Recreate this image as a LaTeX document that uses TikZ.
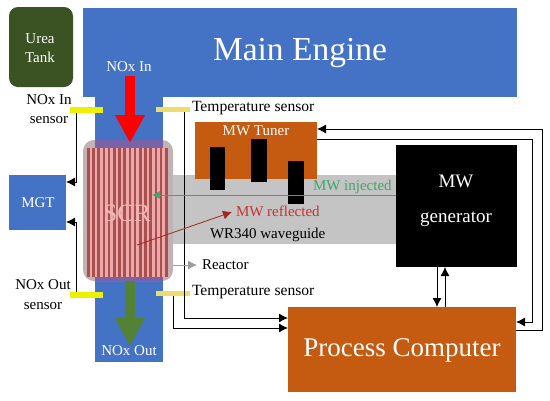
\documentclass[tikz,border=0pt]{standalone}
\usepackage{fontspec}
\setmainfont{Liberation Serif}
\usetikzlibrary{arrows.meta}
\definecolor{engblue}{HTML}{4472C4}
\definecolor{tankgreen}{HTML}{3B5323}
\definecolor{tunerorange}{HTML}{C55A11}
\definecolor{arrowgreen}{HTML}{548235}
\definecolor{wgray}{HTML}{C4C4C4}
\definecolor{scrgray}{HTML}{BFB3B3}
\definecolor{tempyellow}{HTML}{EFDD6A}
\definecolor{sensoryellow}{HTML}{EDF000}
\definecolor{stripered}{HTML}{A84F4F}
\definecolor{stripepink}{HTML}{EDA9A9}
\definecolor{scrtext}{HTML}{F0B8B8}
\definecolor{bandpurple}{HTML}{7A62A8}
\definecolor{mwgreen}{HTML}{3FA56A}
\definecolor{mwred}{HTML}{C8322D}
\tikzset{
 blk/.style={inner sep=0pt,outer sep=0pt,anchor=north west,draw=none},
 conn/.style={draw=black,line width=0.9pt,-{Latex[length=9pt,width=9pt]}},
 sens/.style={blk,fill=sensoryellow,minimum width=33pt,minimum height=6pt},
 temps/.style={blk,fill=tempyellow,minimum width=34pt,minimum height=5pt},
 lbl/.style={inner sep=0pt,outer sep=0pt,font=\fontsize{15}{17}\selectfont},
 fat/.style={line width=9.5pt,-{Triangle[length=28pt,width=28pt]}},
}
\begin{document}
\begin{tikzpicture}[x=1pt,y=-1pt]
\useasboundingbox (0,0) rectangle (550,400);
% Ducts
\node[blk,fill=engblue,minimum width=434pt,minimum height=89pt] (engine) at (83,8) {};
\node[blk,fill=engblue,minimum width=68pt,minimum height=265pt] (duct) at (95,97) {};
\node[blk,fill=tankgreen,rounded corners=9pt,minimum width=64pt,minimum height=80pt] (tank) at (9,7) {};
\node[blk,fill=engblue,minimum width=57pt,minimum height=55pt] (mgt) at (9,175) {};
% Waveguide
\node[blk,fill=wgray,minimum width=225pt,minimum height=69pt] (wave) at (171,175) {};
% Reactor
\node[blk,fill=scrgray,rounded corners=11pt,minimum width=90pt,minimum height=141pt] (scr) at (83,140) {};
\fill[bandpurple] (95,140) rectangle (163,148);
\fill[bandpurple] (95,277) rectangle (163,281);
\fill[stripepink] (87,148) rectangle (168,277);
\foreach \i in {0,...,15}{\fill[stripered] ({87+\i*5.2},148) rectangle ({87+\i*5.2+2.6},277);}
\node[lbl,text=scrtext,font=\fontsize{25}{27}\selectfont] (scrlabel) at (127,213) {SCR};
% Tuner and stubs
\node[blk,fill=tunerorange,minimum width=122pt,minimum height=57pt] (tuner) at (195,122) {};
\node[blk,fill=black,minimum width=15pt,minimum height=43pt] (stuba) at (210,147) {};
\node[blk,fill=black,minimum width=16pt,minimum height=43pt] (stubb) at (251,139) {};
\node[blk,fill=black,minimum width=16pt,minimum height=43pt] (stubc) at (288,161) {};
% Generator and computer
\node[blk,fill=black,minimum width=121pt,minimum height=122pt] (gen) at (396,145) {};
\node[blk,fill=tunerorange,minimum width=228pt,minimum height=85pt] (pc) at (288,307) {};
% Sensors
\node[sens] (noxin) at (70,107) {};
\node[sens] (noxout) at (70,292) {};
\node[temps] (tempin) at (156,107) {};
\node[temps] (tempout) at (156,291) {};
% Fat arrows
\coordinate (inA) at (130,76);
\coordinate (inB) at (130,143);
\coordinate (outA) at (130,281);
\coordinate (outB) at (130,346);
\draw[fat,draw=red,fill=red] (inA) -- (inB);
\draw[fat,draw=arrowgreen,fill=arrowgreen] (outA) -- (outB);
% Connectors
\coordinate (a1) at (76,113);\coordinate (a2) at (76,182);\coordinate (a3) at (66,182);
\draw[conn] (a1) -- (a2) -- (a3);
\coordinate (b1) at (76,292);\coordinate (b2) at (76,222);\coordinate (b3) at (66,222);
\draw[conn] (b1) -- (b2) -- (b3);
\coordinate (c1) at (184,112);\coordinate (c2) at (184,318);\coordinate (c3) at (288,318);
\draw[conn] (c1) -- (c2) -- (c3);
\coordinate (d1) at (173,296);\coordinate (d2) at (173,328);\coordinate (d3) at (288,328);
\draw[conn] (d1) -- (d2) -- (d3);
\coordinate (e1) at (516,330);\coordinate (e2) at (542,330);\coordinate (e3) at (542,129);\coordinate (e4) at (317,129);
\draw[conn] (e1) -- (e2) -- (e3) -- (e4);
\coordinate (f1) at (317,139);\coordinate (f2) at (532,139);\coordinate (f3) at (532,322);\coordinate (f4) at (516,322);
\draw[conn] (f1) -- (f2) -- (f3) -- (f4);
\coordinate (g1) at (437,267);\coordinate (g2) at (437,307);
\draw[conn] (g1) -- (g2);
\coordinate (h1) at (445,307);\coordinate (h2) at (445,267);
\draw[conn] (h1) -- (h2);
\coordinate (r1) at (173,265);\coordinate (r2) at (197,265);
\draw[draw=wgray!80!black,line width=0.9pt,-{Latex[length=9pt,width=9pt]}] (r1) -- (r2);
\coordinate (m1) at (396,195);\coordinate (m2) at (152,195);
\draw[draw=mwgreen,line width=0.7pt,-{Latex[length=8pt,width=8pt]}] (m1) -- (m2);
\coordinate (n1) at (137,245);\coordinate (n2) at (232,212);
\draw[draw=mwred!80!black,line width=0.8pt,-{Latex[length=9pt,width=9pt]}] (n1) -- (n2);
% Texts
\node[text=white,inner sep=0pt,font=\fontsize{33.5}{36}\selectfont] (tengine) at (300,53) {Main Engine};
\node[lbl,text=white] (turea) at (40,39) {Urea};
\node[lbl,text=white] (ttank) at (40,57) {Tank};
\node[lbl,text=white] (tin) at (129,67) {NOx In};
\node[lbl,text=black] (sa) at (49,100) {NOx In};
\node[lbl,text=black] (sb) at (49,120) {sensor};
\node[lbl,text=black] (sc) at (43,285) {NOx Out};
\node[lbl,text=black] (sd) at (43,306) {sensor};
\node[lbl,text=white] (tmgt) at (38,203) {MGT};
\node[lbl,text=white] (tout) at (129,351) {NOx Out};
\node[lbl,anchor=west,font=\fontsize{15.6}{17}\selectfont] (tta) at (192,108) {Temperature sensor};
\node[lbl,anchor=west,font=\fontsize{15.6}{17}\selectfont] (ttb) at (192,292) {Temperature sensor};
\node[lbl,text=white] (ttun) at (256,131) {MW Tuner};
\node[lbl,text=mwgreen,anchor=west] (tinj) at (313,187) {MW injected};
\node[lbl,text=mwred,anchor=west] (tref) at (236,211) {MW reflected};
\node[lbl,anchor=west] (twr) at (210,235) {WR340 waveguide};
\node[lbl,anchor=west] (trea) at (202,265) {Reactor};
\node[lbl,text=white,font=\fontsize{19}{21}\selectfont] (tmw) at (456,181) {MW};
\node[lbl,text=white,font=\fontsize{19}{21}\selectfont] (tgen) at (456,219) {generator};
\node[lbl,text=white,font=\fontsize{27}{30}\selectfont] (tpc) at (402,350) {Process Computer};
\end{tikzpicture}
\end{document}
